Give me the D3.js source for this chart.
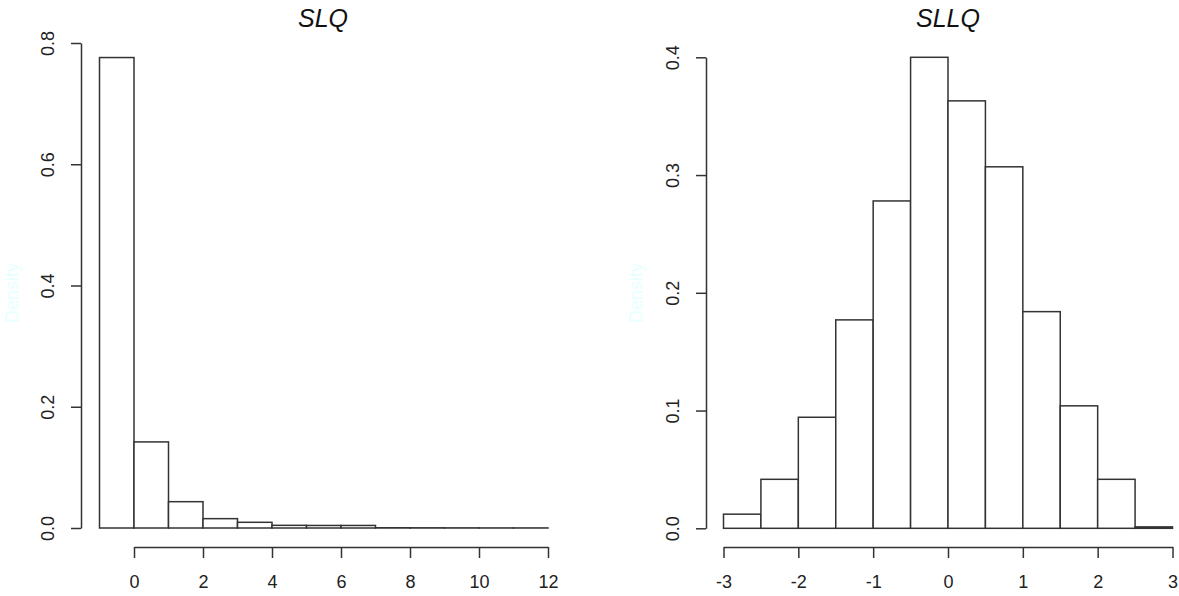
<!DOCTYPE html>
<html>
<head>
<meta charset="utf-8">
<script src="https://cdn.jsdelivr.net/npm/d3@7"></script>
<style>
  body { margin: 0; background: #fff; }
  svg text { font-family: "Liberation Sans", Arial, sans-serif; }
</style>
</head>
<body>
<svg id="chart" width="1179" height="596"></svg>
<script>
// SLQ histogram: unit-wide bins from -1 to 12 (density)
var slqBreaks = [-1, 0, 1, 2, 3, 4, 5, 6, 7, 8, 9, 10, 11, 12];
var slqDensity = [0.776, 0.142, 0.0434, 0.0154, 0.0094, 0.0044, 0.0042, 0.0042, 0.0004, 0.0003, 0.0002, 0.0001, 0.0001];
var slqXTicks = [0, 2, 4, 6, 8, 10, 12];
var slqYTicks = [0, 0.2, 0.4, 0.6, 0.8];

// SLLQ histogram: half-unit bins from -3 to 3
var sllqBreaks = [-3, -2.5, -2, -1.5, -1, -0.5, 0, 0.5, 1, 1.5, 2, 2.5, 3];
var sllqDensity = [0.012, 0.0416, 0.0943, 0.177, 0.278, 0.4, 0.363, 0.307, 0.184, 0.104, 0.0416, 0.0012];
var sllqXTicks = [-3, -2, -1, 0, 1, 2, 3];
var sllqYTicks = [0, 0.1, 0.2, 0.3, 0.4];

const svg = d3.select("#chart");
const ink = "#333";

function drawHist(opt) {
    const x = d3.scaleLinear().domain(opt.xDomain).range(opt.xRange);
    const y = d3.scaleLinear().domain(opt.yDomain).range(opt.yRange);
    const g = svg.append("g");

    // bars
    const bins = opt.density.map((d, i) => ({ x0: opt.breaks[i], x1: opt.breaks[i + 1], v: d }));
    g.selectAll("rect.bar")
        .data(bins)
        .enter()
        .append("rect")
            .attr("class", "bar")
            .attr("x", d => x(d.x0))
            .attr("width", d => x(d.x1) - x(d.x0))
            .attr("y", d => y(d.v))
            .attr("height", d => y(0) - y(d.v))
            .attr("fill", "white")
            .attr("stroke", ink)
            .attr("stroke-width", 1.5);

    // y axis, R style with rotated labels
    const yAxis = g.append("g")
        .attr("transform", "translate(" + opt.yAxisX + ",0)")
        .call(d3.axisLeft(y).tickValues(opt.yTicks).tickSize(10).tickSizeOuter(0).tickFormat(d3.format(".1f")));
    yAxis.select(".domain").attr("stroke", ink).attr("stroke-width", 1.5);
    yAxis.selectAll(".tick line").attr("stroke", ink).attr("stroke-width", 1.5);
    yAxis.selectAll(".tick text")
        .attr("x", null).attr("dy", null)
        .attr("transform", "translate(-33,0) rotate(-90)")
        .attr("dy", "0.36em")
        .attr("text-anchor", "middle")
        .attr("fill", "#222")
        .style("font-size", "18px");

    // x axis below, detached
    const xAxis = g.append("g")
        .attr("transform", "translate(0," + opt.xAxisY + ")")
        .call(d3.axisBottom(x).tickValues(opt.xTicks).tickSize(11).tickSizeOuter(0).tickFormat(d => String(d)));
    xAxis.select(".domain").attr("stroke", ink).attr("stroke-width", 1.5);
    xAxis.selectAll(".tick line").attr("stroke", ink).attr("stroke-width", 1.5);
    xAxis.selectAll(".tick text")
        .attr("y", 35).attr("dy", "0.36em")
        .attr("fill", "#222")
        .style("font-size", "18px");

    // main title
    g.append("text")
        .attr("x", opt.titleX).attr("y", 27)
        .attr("text-anchor", "middle")
        .style("font-size", "25px")
        .style("font-style", "italic")
        .attr("fill", "#111")
        .text(opt.title);

    // faint y label
    g.append("text")
        .attr("transform", "translate(" + opt.ylabX + ",293) rotate(-90)")
        .attr("text-anchor", "middle")
        .attr("dy", "0.36em")
        .style("font-size", "18px")
        .attr("fill", "#e6ffff")
        .text("Density");
}

drawHist({
    title: "SLQ", titleX: 323,
    breaks: slqBreaks, density: slqDensity,
    xDomain: [0, 12], xRange: [134, 548],
    yDomain: [0, 0.8], yRange: [528, 43],
    xTicks: slqXTicks, yTicks: slqYTicks,
    yAxisX: 81, xAxisY: 547, ylabX: 12
});

drawHist({
    title: "SLLQ", titleX: 948,
    breaks: sllqBreaks, density: sllqDensity,
    xDomain: [-3, 3], xRange: [723.5, 1172.5],
    yDomain: [0, 0.4], yRange: [528.3, 57.3],
    xTicks: sllqXTicks, yTicks: sllqYTicks,
    yAxisX: 706, xAxisY: 547, ylabX: 636
});
</script>
</body>
</html>
